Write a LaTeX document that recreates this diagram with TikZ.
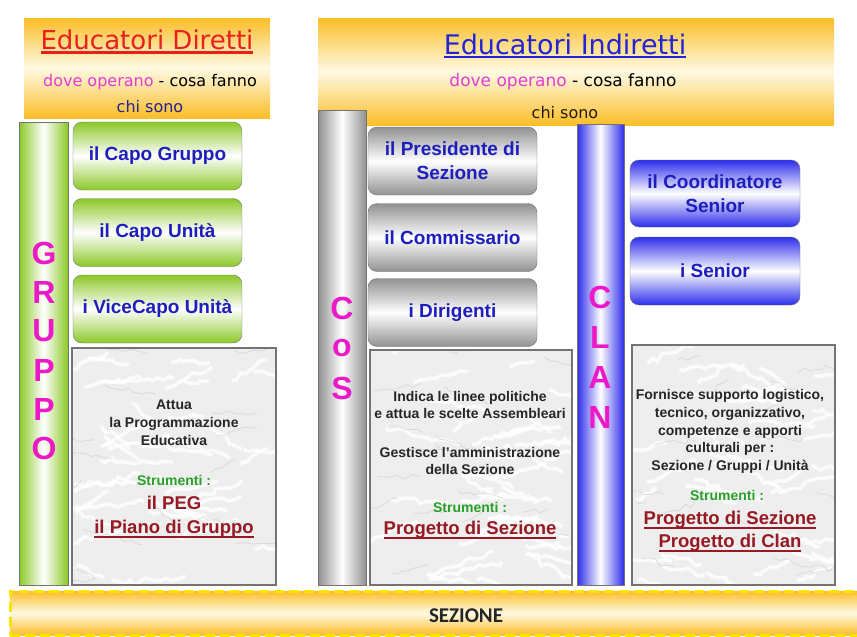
\documentclass[tikz,border=0pt]{standalone}
\usepackage{fontspec}
\setmainfont{Liberation Sans}
\newfontfamily\headfont{DejaVu Sans}
\newfontfamily\bandfont{Carlito}
\usetikzlibrary{decorations.pathmorphing}

\definecolor{hdrorange}{RGB}{250,190,40}
\definecolor{hdrlight}{RGB}{255,250,228}
\definecolor{bandyellow}{RGB}{250,228,0}
\definecolor{grpgreen}{RGB}{140,200,40}
\definecolor{cosgray}{RGB}{145,145,145}
\definecolor{clanblue}{RGB}{45,45,235}
\definecolor{txtblue}{RGB}{30,30,190}
\definecolor{lettermag}{RGB}{235,25,200}
\definecolor{opmag}{RGB}{230,60,215}
\definecolor{toolred}{RGB}{150,25,35}
\definecolor{strgreen}{RGB}{40,160,40}
\definecolor{titlered}{RGB}{235,30,30}
\definecolor{titleblue}{RGB}{35,35,215}
\definecolor{chiblue}{RGB}{40,30,150}
\definecolor{framegray}{RGB}{115,115,115}

% underline drawn as a rule of given thickness
\newcommand{\ulthick}[2][1.3pt]{\leavevmode\setbox0=\hbox{#2}\rlap{\rule[-4pt]{\wd0}{#1}}\box0}

\begin{document}
\begin{tikzpicture}[x=1pt, y=-1pt]
  % pixel grid of the slide, y grows downwards
  \useasboundingbox (0,0) rectangle (857,637);

  % --- Styles ---
  \tikzset{
    header/.style={rectangle, top color=hdrorange, bottom color=hdrorange, middle color=hdrlight, inner sep=0pt},
    title/.style={font=\headfont\fontsize{26}{28}\selectfont, inner sep=0pt},
    subtitle/.style={font=\headfont\fontsize{16}{18}\selectfont, inner sep=0pt},
    side bar/.style={rectangle, draw=framegray, left color=#1, right color=#1, middle color=white, minimum width=48, inner sep=0pt},
    role box/.style={rectangle, rounded corners=9, draw=framegray, top color=#1, bottom color=#1, middle color=white,
      minimum width=169, minimum height=68, text=txtblue, align=center, font=\bfseries\fontsize{19}{24}\selectfont},
    big letter/.style={text=lettermag, font=\bfseries\fontsize{32}{32}\selectfont, inner sep=0pt},
    marble/.style={rectangle, draw=framegray, line width=2.5, inner sep=0pt},
    desc/.style={text=black!85, align=center, font=\bfseries\fontsize{14}{17.8}\selectfont},
    strum/.style={text=strgreen, font=\bfseries\fontsize{14}{16}\selectfont},
    tool/.style={text=toolred, font=\bfseries\fontsize{18.5}{20}\selectfont},
    vein/.style={decorate, decoration={random steps, segment length=6, amplitude=3}}
  }

  % --- Headers ---
  \node[header, minimum width=246, minimum height=100] (dirhead) at (147,68) {};
  \node[title, text=titlered] (dirtitle) at (147,42) {\ulthick[2.5pt]{Educatori Diretti}};
  \node[subtitle] (dirsub) at (150,82) {{\color{opmag}dove operano} - cosa fanno};
  \node[subtitle, text=chiblue] (dirchi) at (150,107) {chi sono};

  \node[header, minimum width=516, minimum height=107] (indhead) at (576,71.5) {};
  \node[title, text=titleblue, font=\headfont\fontsize{27}{29}\selectfont] (indtitle) at (565,46) {\ulthick[2.5pt]{Educatori Indiretti}};
  \node[subtitle, font=\headfont\fontsize{17}{19}\selectfont] (indsub) at (563,82) {{\color{opmag}dove operano} - cosa fanno};
  \node[subtitle, text=black!80!brown] (indchi) at (565,113) {chi sono};

  % --- Side bars ---
  \node[side bar=grpgreen, minimum width=49, minimum height=463] (grpbar) at (43.5,353.5) {};
  \node[side bar=cosgray, minimum height=475] (cosbar) at (342,347.5) {};
  \node[side bar=clanblue, minimum width=47, minimum height=461] (clanbar) at (600.5,354.5) {};

  \foreach \ch [count=\i] in {G,R,U,P,P,O}
    \node[big letter] (grp\i) at (44,214+39*\i) {\ch};
  \foreach \ch [count=\i] in {C,o,S}
    \node[big letter] (cos\i) at (342,268+40*\i) {\ch};
  \foreach \ch [count=\i] in {C,L,A,N}
    \node[big letter] (clan\i) at (600,257+40*\i) {\ch};

  % --- Role boxes ---
  \node[role box=grpgreen] (capogruppo) at (157.5,156) {il Capo Gruppo};
  \node[role box=grpgreen] (capounita) at (157.5,232.5) {il Capo Unità};
  \node[role box=grpgreen] (vicecapo) at (157.5,309) {i ViceCapo Unità};

  \node[role box=cosgray] (presidente) at (452.5,161) {il Presidente di\\Sezione};
  \node[role box=cosgray] (commissario) at (452.5,237.5) {il Commissario};
  \node[role box=cosgray] (dirigenti) at (452.5,312.5) {i Dirigenti};

  \node[role box=clanblue, minimum width=170, minimum height=67] (coordinatore) at (715,193.5) {il Coordinatore\\Senior};
  \node[role box=clanblue, minimum width=170] (senior) at (715,271) {i Senior};

  % --- Marble panels ---
  \pgfmathsetseed{42}
  \foreach \xa/\ya/\xb/\yb in {72/348/276/585, 370/350/572/585, 632/345/835/585}{
    \fill[gray!13] (\xa,\ya) rectangle (\xb,\yb);
    \begin{scope}
      \clip (\xa,\ya) rectangle (\xb,\yb);
      \foreach \v in {1,...,40}{
        \pgfmathsetmacro{\vx}{\xa-20+rnd*(\xb-\xa)}
        \pgfmathsetmacro{\vy}{\ya+rnd*(\yb-\ya)}
        \pgfmathsetmacro{\dx}{25+50*rnd}
        \pgfmathsetmacro{\dy}{-25+50*rnd}
        \draw[vein, white, line width=3.5, opacity=0.8] (\vx,\vy) -- ++(\dx,\dy);
      }
      \foreach \v in {1,...,16}{
        \pgfmathsetmacro{\vx}{\xa-20+rnd*(\xb-\xa)}
        \pgfmathsetmacro{\vy}{\ya+rnd*(\yb-\ya)}
        \pgfmathsetmacro{\dx}{20+40*rnd}
        \pgfmathsetmacro{\dy}{-20+40*rnd}
        \draw[vein, gray!40, line width=0.8, opacity=0.6] (\vx,\vy) -- ++(\dx,\dy);
      }
    \end{scope}
  }
  \node[marble, minimum width=204, minimum height=237] (grpmarble) at (174,466.5) {};
  \node[marble, minimum width=202, minimum height=235] (cosmarble) at (471,467.5) {};
  \node[marble, minimum width=203, minimum height=240] (clanmarble) at (733.5,465) {};

  % --- Panel texts ---
  \node[desc] (grpdesc) at (174,422.5) {Attua\\la Programmazione\\Educativa};
  \node[strum] (grpstrum) at (174,480) {Strumenti :};
  \node[tool] (peg) at (174,503) {il PEG};
  \node[tool] (pianogruppo) at (174,529) {\ulthick{il Piano di Gruppo}};

  \node[desc] (cosdesca) at (470,405) {Indica le linee politiche\\e attua le scelte Assembleari};
  \node[desc] (cosdescb) at (470,461) {Gestisce l'amministrazione\\della Sezione};
  \node[strum] (cosstrum) at (470,507) {Strumenti :};
  \node[tool] (progsez) at (470,530) {\ulthick{Progetto di Sezione}};

  \node[desc] (clandesc) at (730,431.5) {Fornisce supporto logistico,\\tecnico, organizzativo,\\competenze e apporti\\culturali per :\\Sezione / Gruppi / Unità};
  \node[strum] (clanstrum) at (727,495) {Strumenti :};
  \node[tool] (clanprogsez) at (730,520) {\ulthick{Progetto di Sezione}};
  \node[tool] (progclan) at (730,543) {\ulthick{Progetto di Clan}};

  % --- Bottom band ---
  \node[rectangle, draw=bandyellow, dash pattern=on 10pt off 5pt, line width=3,
    top color=hdrorange, bottom color=hdrorange, middle color=hdrlight,
    minimum width=850, minimum height=44] (sezione) at (435,613) {};
  \node[text=black!85, font=\bandfont\bfseries\fontsize{21}{23}\selectfont] (sezlabel) at (466,616) {SEZIONE};

\end{tikzpicture}
\end{document}
